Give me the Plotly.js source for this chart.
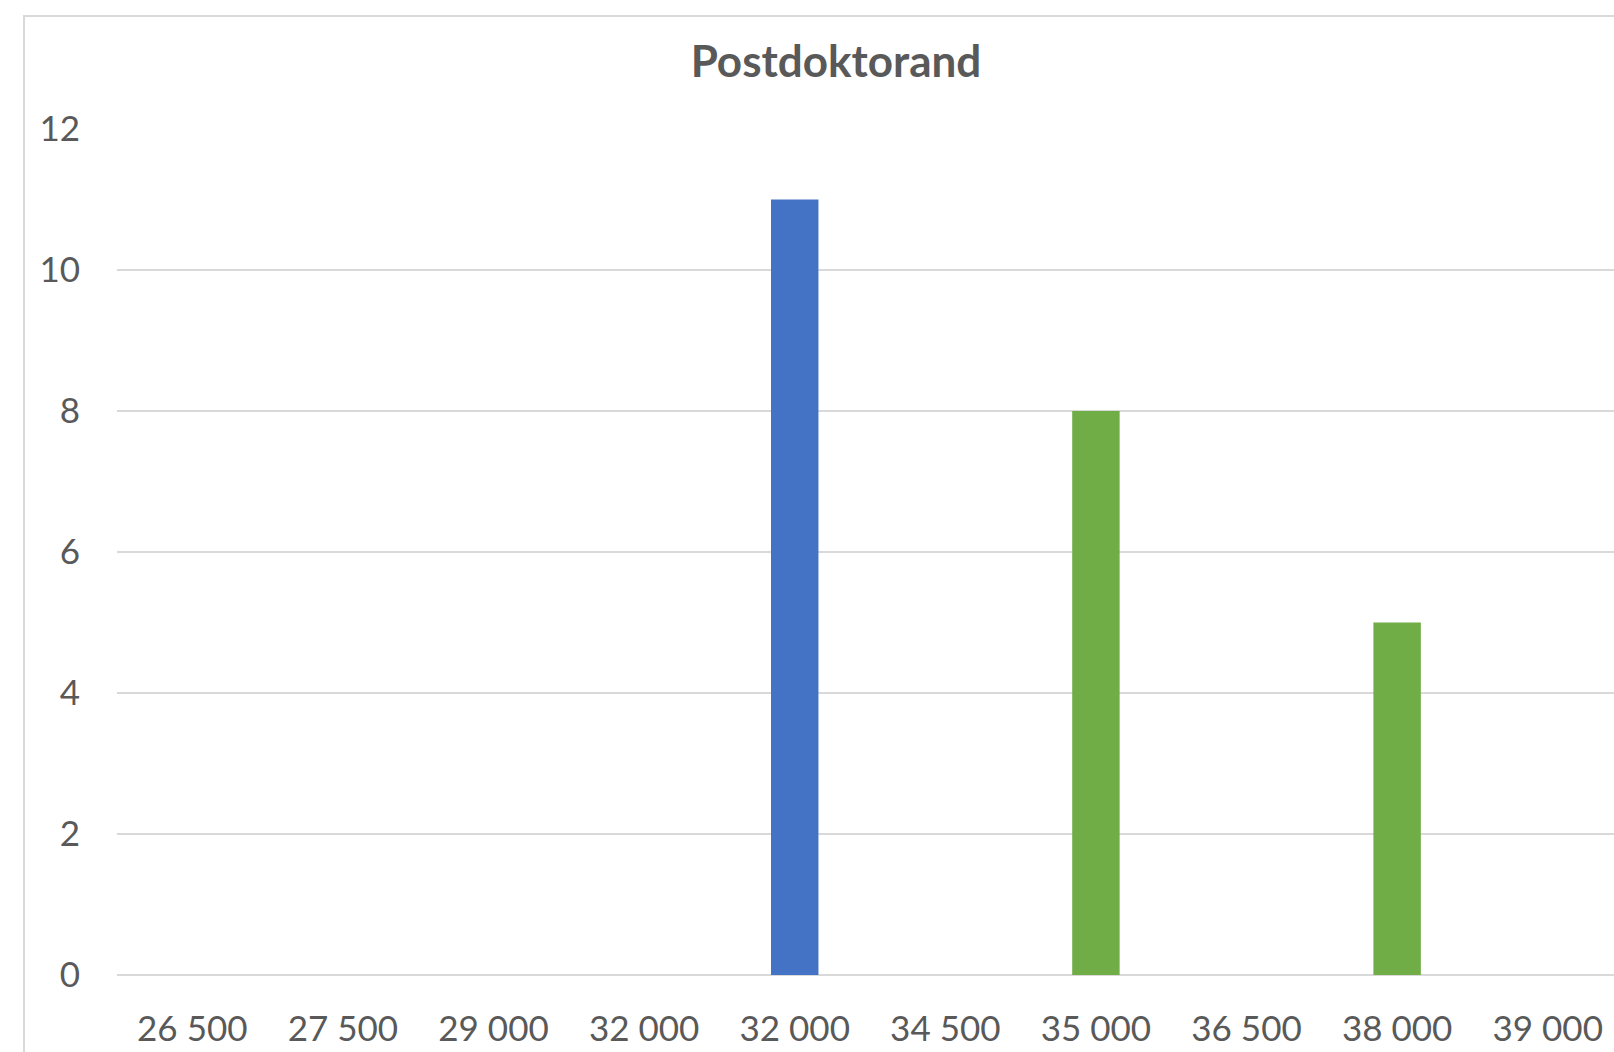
<!DOCTYPE html>
<html>
<head>
<meta charset="utf-8">
<script src="https://cdn.plot.ly/plotly-3.0.1.min.js"></script>
<style>
  html, body { margin: 0; padding: 0; background: #ffffff; overflow: hidden; }
  #frame { position: absolute; left: 23px; top: 15px; width: 1700px; height: 1100px;
           border-top: 2px solid #D9D9D9; border-left: 2px solid #D9D9D9; pointer-events: none; }
  #chart { position: absolute; left: 0; top: 0; width: 1614px; height: 1052px; }
</style>
</head>
<body>
<div id="chart"></div>
<div id="frame"></div>
<script>
// Data
var tickLabels = ["26 500", "27 500", "29 000", "32 000", "32 000", "34 500", "35 000", "36 500", "38 000", "39 000"];
var blueValues = [null, null, null, null, 11, null, null, null, null, null];
var greenValues = [null, null, null, null, null, null, 8, null, 5, null];
var chartTitle = "Postdoktorand";

var positions = tickLabels.map(function (_, i) { return i; });

var traces = [
  { type: "bar", x: positions, y: blueValues, marker: { color: "#4472C4" }, width: 0.315, hoverinfo: "y" },
  { type: "bar", x: positions, y: greenValues, marker: { color: "#70AD47" }, width: 0.315, hoverinfo: "y" }
];

var textColor = "#595959";
var layout = {
  width: 1614,
  height: 1052,
  margin: { l: 117, r: 0, t: 128.7, b: 76.5 },
  paper_bgcolor: "rgba(0,0,0,0)",
  plot_bgcolor: "rgba(0,0,0,0)",
  showlegend: false,
  barmode: "overlay",
  font: { family: "Lato, 'Open Sans', sans-serif", color: textColor },
  title: {
    text: "<b>" + chartTitle + "</b>",
    font: { family: "Lato, 'Open Sans', sans-serif", size: 44, color: textColor },
    xref: "container", yref: "container",
    x: 836 / 1614, xanchor: "center",
    y: 1 - 62 / 1052, yanchor: "middle"
  },
  xaxis: {
    type: "linear",
    range: [-0.5, 9.44],
    tickmode: "array",
    tickvals: positions,
    ticktext: tickLabels,
    showgrid: false,
    zeroline: false,
    showline: false,
    ticks: "",
    ticklabelstandoff: 30,
    tickfont: { size: 35, color: textColor }
  },
  yaxis: {
    range: [0, 12],
    tickmode: "array",
    tickvals: [0, 2, 4, 6, 8, 10, 12],
    showgrid: true,
    gridcolor: "#D9D9D9",
    gridwidth: 2,
    zeroline: true,
    zerolinecolor: "#D9D9D9",
    zerolinewidth: 2,
    showline: false,
    ticks: "",
    ticklabelstandoff: 36,
    tickfont: { size: 35, color: textColor }
  }
};

Plotly.newPlot("chart", traces, layout, { displayModeBar: false, staticPlot: true });
</script>
</body>
</html>
